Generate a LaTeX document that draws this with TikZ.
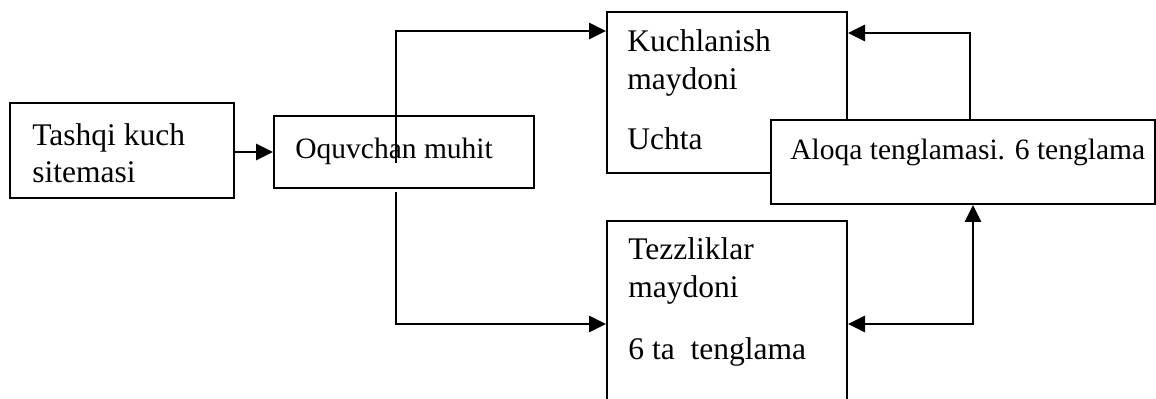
\documentclass[tikz,border=0pt]{standalone}
\usepackage{fontspec}
\setmainfont{Liberation Serif}
\usetikzlibrary{arrows.meta,fit}
\begin{document}
\begin{tikzpicture}[x=0.5pt,y=-0.5pt,
  box/.style={draw, line width=1pt, fill=white, inner sep=0pt},
  txt/.style={anchor=base west, inner sep=0pt, font=\fontsize{15.75}{19}\selectfont},
  txtsm/.style={anchor=base west, inner sep=0pt, font=\fontsize{14.75}{18}\selectfont},
  head/.tip={Triangle[length=8.5pt,width=8pt]},
  link/.style={line width=1.4pt, -{head}},
  dlink/.style={line width=1.4pt, {head}-{head}}]
\useasboundingbox (0,0) rectangle (1156,399);

% blocks
\node[box, fit={(10,103) (234,198)}] (src) {};
\node[box, fit={(274,116) (534,188)}] (med) {};
\node[box, fit={(607,12) (847,173)}] (stress) {};
\node[box, fit={(771,120) (1155,204)}] (rel) {};
\node[box, fit={(607,221) (847,430)}] (vel) {};

% block texts
\node[txt] (src1) at (32,146) {Tashqi kuch};
\node[txt] (src2) at (32,183) {sitemasi};
\node[txtsm] (med1) at (295,159) {Oquvchan muhit};
\node[txt] (st1) at (627,52) {Kuchlanish};
\node[txt] (st2) at (627,90) {maydoni};
\node[txt] (st3) at (627,150) {Uchta};
\node[txtsm] (ln1) at (790,160) {Aloqa tenglamasi. 6 tenglama};
\node[txt] (v1) at (628,260) {Tezzliklar};
\node[txt] (v2) at (628,298) {maydoni};
\node[txt] (v3) at (628,360) {6 ta\ \ tenglama};

% routing levels
\coordinate (up) at (396,163);
\coordinate (dn) at (396,192);
\coordinate (ytop) at (0,31);
\coordinate (ybot) at (0,324);
\coordinate (yfb) at (0,33);
\coordinate (xfb) at (970,0);
\coordinate (xlo) at (973,0);

% connectors
\draw[link] (src.east |- 0,152) -- (med.west |- 0,152);
\draw[link] (up) |- (stress.west |- ytop);
\draw[link] (dn) |- (vel.west |- ybot);
\draw[link] (rel.north -| xfb) |- (stress.east |- yfb);
\draw[dlink] (vel.east |- ybot) -| (rel.south -| xlo);
\end{tikzpicture}
\end{document}
